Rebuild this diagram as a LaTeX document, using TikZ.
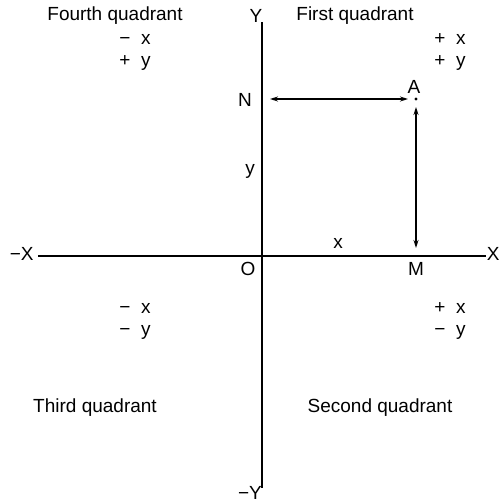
\documentclass[tikz,border=0pt]{standalone}
\usepackage{fontspec}
\setmainfont{Liberation Sans}
\usetikzlibrary{arrows.meta}
\tikzset{
  axis/.style={line width=0.7pt, black},
  dimline/.style={{Stealth[length=4pt,width=2.5pt]}-{Stealth[length=4pt,width=2.5pt]},
    line width=0.6pt, shorten <=4pt, shorten >=4pt},
  lbl/.style={font=\fontsize{9.5}{11}\selectfont, inner sep=1pt},
  sgn/.style={lbl, align=left},
}

\begin{document}
\begin{tikzpicture}[x=0.5pt, y=-0.5pt]

  \useasboundingbox (0,0) rectangle (502,503);

  % Axes
  \coordinate (xneg) at (38,256);
  \coordinate (xpos) at (486,256);
  \coordinate (ytop) at (262,22);
  \coordinate (ybot) at (262,488);
  \draw[axis] (xneg) -- (xpos);
  \draw[axis] (ytop) -- (ybot);

  \node[lbl, anchor=east] (xm) at (36,254) {\char"2212X};
  \node[lbl, anchor=east] (xp) at (502,254) {X};
  \node[lbl] (yp) at (256,16) {Y};
  \node[lbl] (ym) at (250,493) {\char"2212Y};

  % Points
  \coordinate (O) at (262,256);
  \coordinate (N) at (262,99);
  \coordinate (A) at (416,99);
  \coordinate (M) at (416,256);
  \fill (A) circle (0.8pt);

  \node[lbl] (olbl) at (248,269) {O};
  \node[lbl] (nlbl) at (245,100) {N};
  \node[lbl] (albl) at (414,87) {A};
  \node[lbl] (mlbl) at (416,269) {M};
  \node[lbl] (xl) at (338,243) {x};
  \node[lbl] (yl) at (250,171) {y};

  % Projections
  \draw[dimline] (N) -- (A);
  \draw[dimline] (A) -- (M);

  % Quadrants
  \node[lbl] (q4) at (115,16) {Fourth quadrant};
  \node[lbl] (q1) at (355,16) {First quadrant};
  \node[lbl] (q3) at (95,408) {Third quadrant};
  \node[lbl] (q2) at (380,408) {Second quadrant};

  \node[sgn] (s4) at (135,52) {\char"2212\ \ x\\+\ \ y};
  \node[sgn] (s1) at (450,52) {+\ \ x\\+\ \ y};
  \node[sgn] (s3) at (135,321) {\char"2212\ \ x\\\char"2212\ \ y};
  \node[sgn] (s2) at (450,321) {+\ \ x\\\char"2212\ \ y};

\end{tikzpicture}
\end{document}
